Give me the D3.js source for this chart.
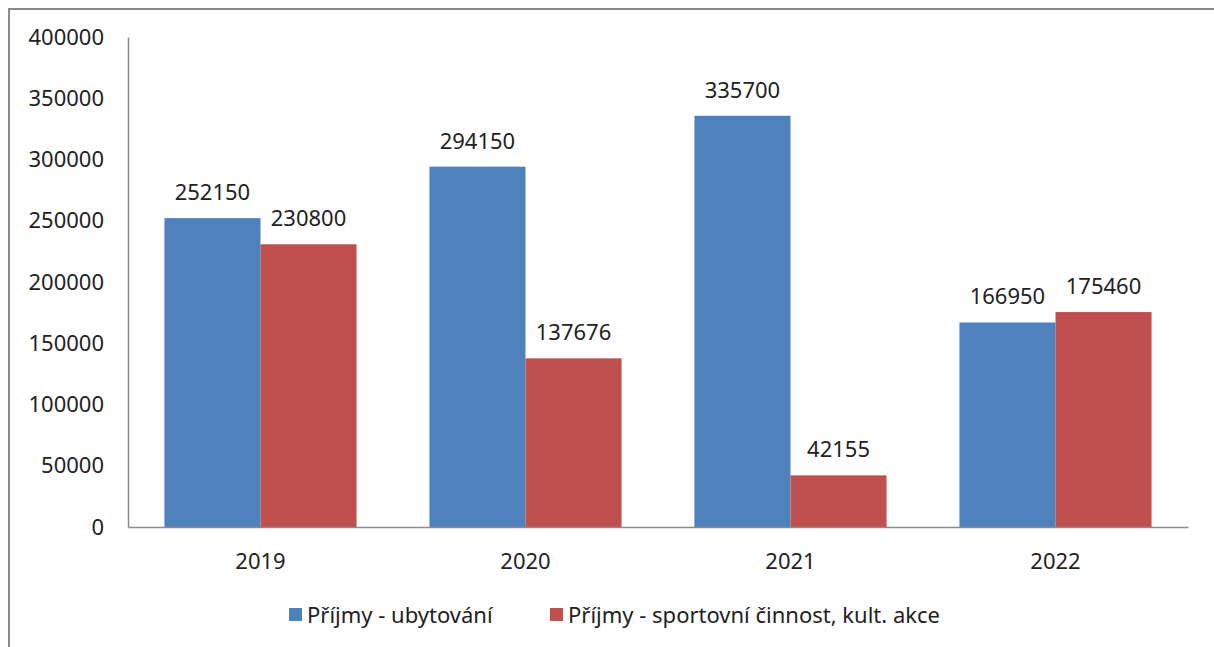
<!DOCTYPE html>
<html>
<head>
<meta charset="utf-8">
<script src="https://cdn.jsdelivr.net/npm/d3@7"></script>
<style>
  body { margin: 0; background: #fff; }
  svg { display: block; font-family: "Noto Sans", "Open Sans", sans-serif; }
</style>
</head>
<body>
<svg width="1214" height="647"></svg>
<script>
const years = ["2019", "2020", "2021", "2022"];
const ubytovani = [252150, 294150, 335700, 166950];
const sportovni = [230800, 137676, 42155, 175460];
const seriesNames = ["Příjmy - ubytování", "Příjmy - sportovní činnost, kult. akce"];
const yTicks = [0, 50000, 100000, 150000, 200000, 250000, 300000, 350000, 400000];

const colors = ["#4F81BD", "#C0504D"];
const fontSize = 22;

const svg = d3.select("svg");
const width = +svg.attr("width");
const height = +svg.attr("height");

// frame (only top and left edge visible)
svg.append("path")
  .attr("d", `M9,${height} L9,9 L${width},9`)
  .attr("fill", "none")
  .attr("stroke", "#8a8a8a")
  .attr("stroke-width", 2);

const margin = {top: 37, right: 26, bottom: 120, left: 128};
const innerWidth = width - margin.left - margin.right;
const innerHeight = height - margin.top - margin.bottom;

const g = svg.append("g")
  .attr("transform", `translate(${margin.left}, ${margin.top})`);

const xScale = d3.scaleBand()
  .domain(years)
  .range([0, innerWidth])
  .paddingInner(0.275)
  .paddingOuter(0.1375);

const xInner = d3.scaleBand()
  .domain([0, 1])
  .range([0, xScale.bandwidth()]);

const yScale = d3.scaleLinear()
  .domain([0, 400000])
  .range([innerHeight, 0]);

const data = years.map((y, i) => ({year: y, values: [ubytovani[i], sportovni[i]]}));

// bars
const groups = g.selectAll(".grp").data(data)
  .enter().append("g")
    .attr("class", "grp")
    .attr("transform", d => `translate(${xScale(d.year)},0)`);

groups.selectAll("rect").data(d => d.values)
  .enter().append("rect")
    .attr("x", (d, i) => xInner(i))
    .attr("y", d => yScale(d))
    .attr("width", xInner.bandwidth())
    .attr("height", d => innerHeight - yScale(d))
    .attr("fill", (d, i) => colors[i]);

groups.selectAll("text").data(d => d.values)
  .enter().append("text")
    .attr("x", (d, i) => xInner(i) + xInner.bandwidth() / 2)
    .attr("y", d => yScale(d) - 18)
    .attr("text-anchor", "middle")
    .attr("font-size", fontSize)
    .attr("fill", "#222")
    .text(d => d);

// y axis
const yAxis = g.append("g")
  .call(d3.axisLeft(yScale).tickValues(yTicks).tickSize(0).tickPadding(24).tickFormat(d3.format("d")));
yAxis.attr("font-size", fontSize).attr("font-family", null);
yAxis.select(".domain").attr("stroke", "#8c8c8c").attr("stroke-width", 1.5);
yAxis.selectAll("text").attr("fill", "#222");

// x axis
const xAxis = g.append("g")
  .attr("transform", `translate(0, ${innerHeight})`)
  .call(d3.axisBottom(xScale).tickSize(0).tickPadding(26));
xAxis.attr("font-size", fontSize).attr("font-family", null);
xAxis.select(".domain").attr("stroke", "#8c8c8c").attr("stroke-width", 1.5);
xAxis.selectAll("text").attr("fill", "#222");

// legend
const legendX = [289, 550];
const legend = svg.append("g").attr("transform", "translate(0, 615)");
const items = legend.selectAll("g").data(seriesNames)
  .enter().append("g")
    .attr("transform", (d, i) => `translate(${legendX[i]}, 0)`);
items.append("rect")
  .attr("x", 0).attr("y", -7)
  .attr("width", 13).attr("height", 13)
  .attr("fill", (d, i) => colors[i]);
items.append("text")
  .attr("x", 18)
  .attr("dy", "0.35em")
  .attr("font-size", fontSize)
  .attr("fill", "#222")
  .text(d => d);
</script>
</body>
</html>
